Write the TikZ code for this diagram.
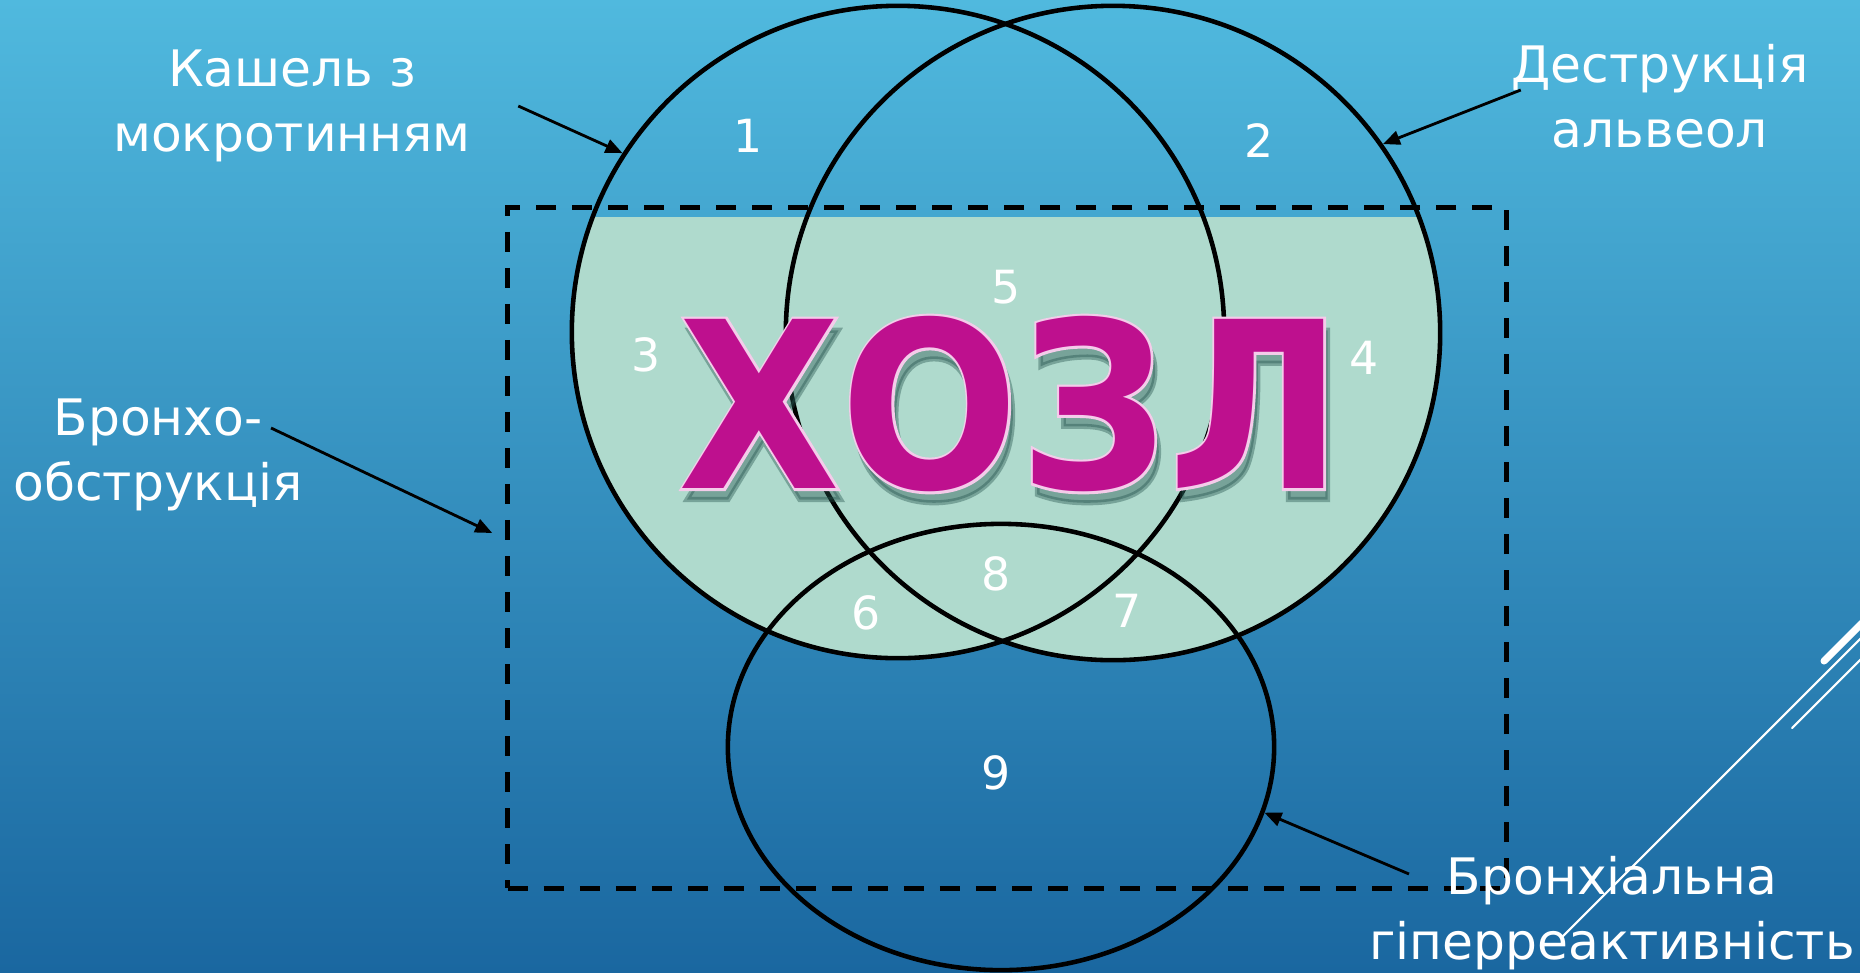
\documentclass[tikz,border=0pt]{standalone}
\usepackage{fontspec}
\setmainfont{DejaVu Sans}
\newfontfamily\hozlrimfamily{DejaVu Sans}[FakeBold=2.2]
\usetikzlibrary{arrows.meta, positioning, shapes.geometric}

\definecolor{bgtop}{HTML}{50B9DE}
\definecolor{bgbottom}{HTML}{1A67A0}
\definecolor{mint}{HTML}{AFDACD}
\definecolor{hozlpink}{HTML}{BE108E}
\definecolor{hozlrim}{HTML}{F4CCEA}
\definecolor{hozlshadow}{HTML}{24524C}

\newcommand{\hozlfont}{\fontsize{66}{70}\selectfont\bfseries}
\newcommand{\hozlrimfont}{\hozlrimfamily\fontsize{66}{70}\selectfont\bfseries}

\begin{document}
\begin{tikzpicture}[
    x=0.01cm, y=-0.01cm,
    ring/.style={draw=black, line width=1.3pt, inner sep=0pt},
    sidenote/.style={text=white, font=\fontsize{14.3}{18.5}\selectfont, align=center},
    areanum/.style={text=white, inner sep=0.5pt, font=\fontsize{13}{15}\selectfont},
    pointer/.style={draw=black, -{Triangle[length=1.7mm, width=1.4mm]}, line width=0.8pt},
    deco/.style={draw=white, line cap=round},
    hozltext/.style={inner sep=0pt, xscale=0.905, transform shape}
]
\useasboundingbox (0,0) rectangle (1860,972);
\shade[top color=bgtop, bottom color=bgbottom] (0,0) rectangle (1860,972);

% white strokes in the corner
\draw[deco, line width=2pt] (1824,661) -- (1862,623);
\draw[deco, line width=0.6pt] (1562,937) -- (1862,637);
\draw[deco, line width=0.6pt] (1792,728) -- (1862,658);

% mint area inside the two upper circles
\begin{scope}
  \clip (0,217) rectangle (1860,972);
  \fill[mint] (898,332) circle[radius=326];
  \fill[mint] (1113,333) circle[radius=327];
\end{scope}

% circles
\node[ring, circle, minimum size=6.52cm] (lung1) at (898,332) {};
\node[ring, circle, minimum size=6.54cm] (lung2) at (1113,333) {};
\node[ring, ellipse, minimum width=5.46cm, minimum height=4.46cm] (lung3) at (1001,747) {};

% dashed frame
\node[draw=black, line width=1.4pt, dash pattern=on 2mm off 1.6mm,
      minimum width=9.98cm, minimum height=6.8cm, inner sep=0pt] (frame) at (1007,548) {};

% title with shadow and rim
\node[hozltext, text=hozlshadow, opacity=0.4, font=\hozlrimfont] (hozl-shadow) at (1015,415) {ХОЗЛ};
\node[hozltext, text=hozlrim, font=\hozlrimfont] (hozl-rim) at (1011,404) {ХОЗЛ};
\node[hozltext, text=hozlpink, font=\hozlfont] (hozl) at (1011,404) {ХОЗЛ};

% region numbers
\node[areanum] (n1) at (748,136) {1};
\node[areanum] (n2) at (1259,141) {2};
\node[areanum] (n3) at (646,355) {3};
\node[areanum] (n4) at (1364,358) {4};
\node[areanum] (n5) at (1006,287) {5};
\node[areanum] (n6) at (866,613) {6};
\node[areanum] (n7) at (1127,611) {7};
\node[areanum] (n8) at (996,574) {8};
\node[areanum] (n9) at (996,773) {9};

% side labels
\node[sidenote] (kashel) at (292,106) {Кашель з\\мокротинням};
\node[sidenote] (destr) at (1660,96) {Деструкція\\альвеол};
\node[sidenote] (bronkh) at (158,455) {Бронхо-\\обструкція};
\node[sidenote] (hyper) at (1612,913) {Бронхіальна\\гіперреактивність};

% arrows
\draw[pointer] ([xshift=3.5mm]kashel.east) -- (lung1.147);
\draw[pointer] ([xshift=2.2mm,yshift=0.6mm]destr.west) -- (lung2.35);
\draw[pointer] ([xshift=-4.4mm,yshift=2.7mm]bronkh.east) -- ([xshift=-1.3mm,yshift=1.5mm]frame.west);
\draw[pointer] ([xshift=5.2mm,yshift=3.9mm]hyper.west) -- (lung3.-14);
\end{tikzpicture}
\end{document}
